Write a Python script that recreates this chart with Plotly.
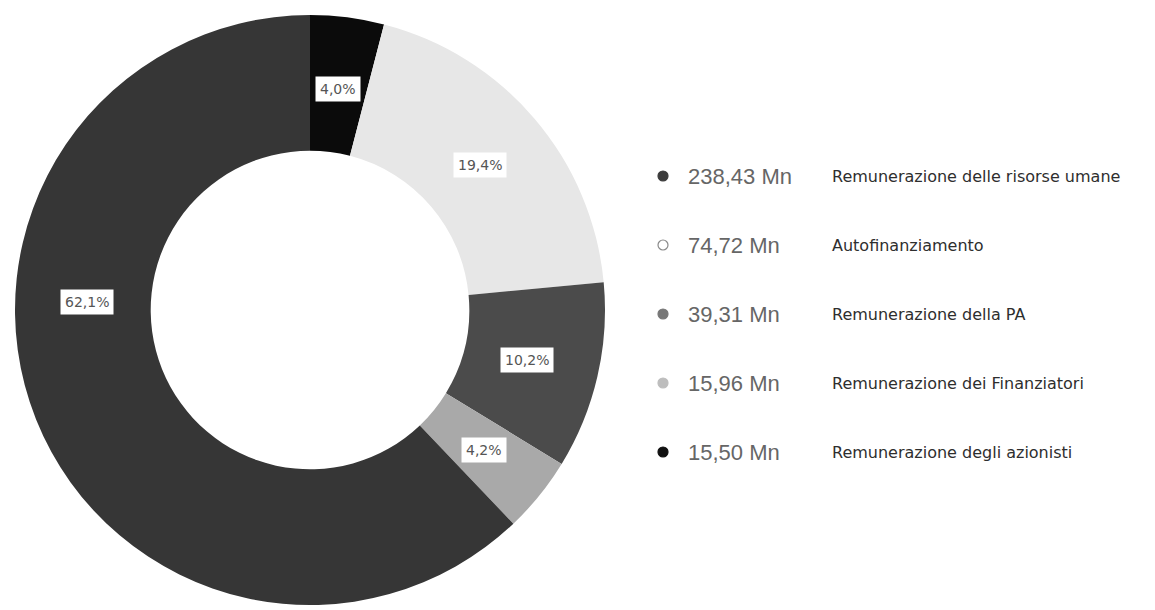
import math
import plotly.graph_objects as go

# ---- data ----
categories = [
    "Remunerazione degli azionisti",
    "Autofinanziamento",
    "Remunerazione della PA",
    "Remunerazione dei Finanziatori",
    "Remunerazione delle risorse umane",
]
values_mn = [15.50, 74.72, 39.31, 15.96, 238.43]
pct_labels = ["4,0%", "19,4%", "10,2%", "4,2%", "62,1%"]

legend_order = [
    "Remunerazione delle risorse umane",
    "Autofinanziamento",
    "Remunerazione della PA",
    "Remunerazione dei Finanziatori",
    "Remunerazione degli azionisti",
]

# ---- styles ----
W, H = 1155, 610
OFF = 8  # page body margin offset in the browser
slice_colors = {
    "Remunerazione degli azionisti": "#0b0b0b",
    "Autofinanziamento": "#e7e7e7",
    "Remunerazione della PA": "#4b4b4b",
    "Remunerazione dei Finanziatori": "#a9a9a9",
    "Remunerazione delle risorse umane": "#363636",
}
legend_dot = {
    "Remunerazione delle risorse umane": ("#3c3c3c", "#3c3c3c"),
    "Autofinanziamento": ("#ffffff", "#8a8a8a"),
    "Remunerazione della PA": ("#777777", "#777777"),
    "Remunerazione dei Finanziatori": ("#bdbdbd", "#bdbdbd"),
    "Remunerazione degli azionisti": ("#111111", "#111111"),
}
label_angle_override = {"Remunerazione delle risorse umane": 272.0}

# donut geometry in (screen) pixels
cx, cy, R = 310 - OFF, 310 - OFF, 295
hole = 0.54

fig = go.Figure()
fig.add_trace(go.Pie(
    labels=categories,
    values=values_mn,
    hole=hole,
    sort=False,
    direction="clockwise",
    rotation=0,
    textinfo="none",
    hoverinfo="label+value+percent",
    marker=dict(colors=[slice_colors[c] for c in categories], line=dict(width=0)),
    domain=dict(x=[(cx - R) / W, (cx + R) / W], y=[(H - cy - R) / H, (H - cy + R) / H]),
    showlegend=False,
))

annotations = []
shapes = []

# percentage labels in white boxes, placed at the slice mid-angle
total = sum(values_mn)
cum = 0.0
rmid = R * (1 + hole) / 2 - 4
for cat, v, lab in zip(categories, values_mn, pct_labels):
    ang = 360.0 * (cum + v / 2) / total
    cum += v
    ang = label_angle_override.get(cat, ang)
    px = cx + rmid * math.sin(math.radians(ang))
    py = cy - rmid * math.cos(math.radians(ang))
    annotations.append(dict(
        x=px / W, y=1 - py / H, xref="paper", yref="paper",
        text=lab, showarrow=False,
        font=dict(family="DejaVu Sans", size=14, color="#555555"),
        bgcolor="#ffffff", borderpad=4,
        xanchor="center", yanchor="middle",
    ))

# custom legend
val_by_cat = dict(zip(categories, values_mn))
row_y0, row_dy = 176 - OFF, 69
dot_x, val_x, lab_x = 663 - OFF, 686 - OFF, 830 - OFF
for i, cat in enumerate(legend_order):
    py = row_y0 + i * row_dy
    fill, edge = legend_dot[cat]
    shapes.append(dict(
        type="circle", xref="paper", yref="paper",
        xsizemode="pixel", ysizemode="pixel",
        xanchor=dot_x / W, yanchor=1 - py / H,
        x0=-5, x1=5, y0=-5, y1=5,
        fillcolor=fill, line=dict(color=edge, width=1.2),
    ))
    annotations.append(dict(
        x=val_x / W, y=1 - py / H, xref="paper", yref="paper",
        text=f"{val_by_cat[cat]:.2f}".replace(".", ",") + " Mn",
        showarrow=False, xanchor="left", yanchor="middle",
        font=dict(family="Liberation Sans", size=22, color="#666666"),
    ))
    annotations.append(dict(
        x=lab_x / W, y=1 - py / H, xref="paper", yref="paper",
        text=cat, showarrow=False, xanchor="left", yanchor="middle",
        font=dict(family="DejaVu Sans", size=16, color="#2e2e2e"),
    ))

fig.update_layout(
    width=W, height=H,
    margin=dict(l=0, r=0, t=0, b=0),
    paper_bgcolor="#ffffff", plot_bgcolor="#ffffff",
    annotations=annotations, shapes=shapes,
)

fig.write_html("out.html")
